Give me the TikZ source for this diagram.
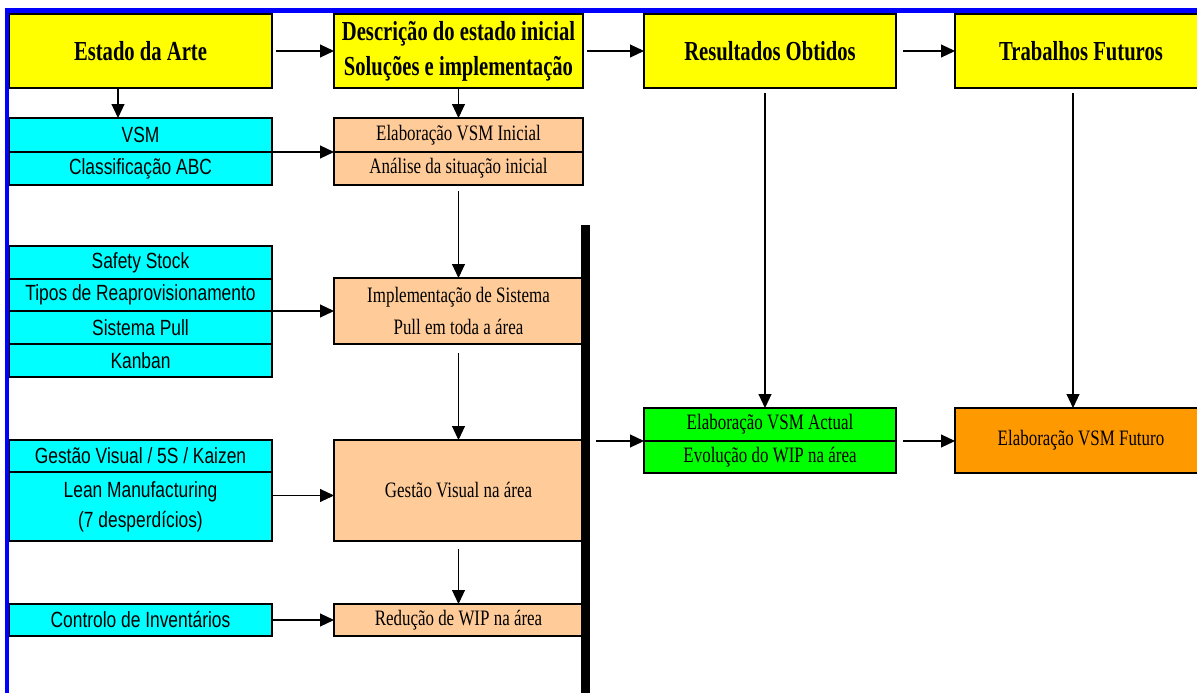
\documentclass[tikz,border=0pt]{standalone}
\usepackage{fontspec}
\usetikzlibrary{arrows.meta}
\newfontfamily\ttlfont[FakeStretch=0.75]{Liberation Serif}
\newfontfamily\serfont[FakeStretch=0.77]{Liberation Serif}
\newfontfamily\sanfont[FakeStretch=0.79]{Liberation Sans}
\definecolor{ylw}{HTML}{FFFF00}
\definecolor{cyn}{HTML}{00FFFF}
\definecolor{pch}{HTML}{FFCC99}
\definecolor{grn}{HTML}{00FF00}
\definecolor{org}{HTML}{FF9900}
\definecolor{brd}{HTML}{0000FF}
\tikzset{
  bx/.style={draw=black, line width=2.4pt, inner sep=0pt, outer sep=0pt, align=center, text=black},
  titlebox/.style={bx, fill=ylw, minimum height=74pt, font=\ttlfont\bfseries\fontsize{27.5}{35}\selectfont},
  leftbox/.style={bx, fill=cyn, minimum width=263pt, font=\sanfont\fontsize{22}{30}\selectfont},
  midbox/.style={bx, fill=pch, minimum width=249pt, font=\serfont\fontsize{22}{32}\selectfont},
  resbox/.style={bx, minimum width=252pt, font=\serfont\fontsize{22}{32}\selectfont},
  arr/.style={line width=1.1pt, -{Triangle[length=14pt,width=13pt]}},
}
\begin{document}
\begin{tikzpicture}[x=1pt,y=-1pt]
\clip (0,0) rectangle (1197,693);
\useasboundingbox (0,0) rectangle (1197,693);
\fill[white] (0,0) rectangle (1197,693);
% title row
\node[titlebox, minimum width=263pt] (arte) at (140.5,51) {Estado da Arte};
\node[titlebox, minimum width=249pt] (desc) at (458.5,51) {Descrição do estado inicial\\Soluções e implementação};
\node[titlebox, minimum width=252pt] (res) at (770,51) {Resultados Obtidos};
\node[titlebox, minimum width=252pt] (trab) at (1081,51) {Trabalhos Futuros};
% left column
\node[leftbox, minimum height=34pt] (vsm) at (140.5,135) {VSM};
\node[leftbox, minimum height=33pt] (abc) at (140.5,168.5) {Classificação ABC};
\node[leftbox, minimum height=33pt] (safety) at (140.5,262.5) {Safety Stock};
\node[leftbox, minimum height=32pt] (tipos) at (140.5,295) {Tipos de Reaprovisionamento};
\node[leftbox, minimum height=33pt] (spull) at (140.5,327.5) {Sistema Pull};
\node[leftbox, minimum height=33pt] (kanban) at (140.5,360.5) {Kanban};
\node[leftbox, minimum height=32pt] (gv5s) at (140.5,456) {Gestão Visual / 5S / Kaizen};
\node[leftbox, minimum height=69pt] (lean) at (140.5,506.5) {Lean Manufacturing\\(7 desperdícios)};
\node[leftbox, minimum height=32pt] (ctrl) at (140.5,620) {Controlo de Inventários};
% middle column
\node[midbox, minimum height=34pt] (elab) at (458.5,135) {Elaboração VSM Inicial};
\node[midbox, minimum height=33pt] (anal) at (458.5,168.5) {Análise da situação inicial};
\node[midbox, minimum height=66pt] (impl) at (458.5,311) {Implementação de Sistema\\Pull em toda a área};
\node[midbox, minimum height=101pt] (gvna) at (458.5,490.5) {Gestão Visual na área};
\node[midbox, minimum height=32pt] (red) at (458.5,620) {Redução de WIP na área};
% bar
\node[fill=black, inner sep=0pt, outer sep=0pt, minimum width=9pt, minimum height=470pt] (bar) at (585.5,460) {};
% results
\node[resbox, fill=grn, minimum height=33pt] (act) at (770,424.5) {Elaboração VSM Actual};
\node[resbox, fill=grn, minimum height=32pt] (evo) at (770,457) {Evolução do WIP na área};
\node[resbox, fill=org, minimum height=65pt] (fut) at (1081,440.5) {Elaboração VSM Futuro};
% arrows top row
\draw[arr] ([xshift=4pt]arte.east) -- (desc.west);
\draw[arr] ([xshift=4pt]desc.east) -- (res.west);
\draw[arr] ([xshift=7pt]res.east) -- (trab.west);
% down arrows
\draw[arr] ([xshift=-22.5pt]arte.south) -- ([xshift=-22.5pt]vsm.north);
\draw[arr] ([yshift=-1pt]desc.south) -- (elab.north);
\draw[arr] ([yshift=-6pt]anal.south) -- (impl.north);
\draw[arr] ([yshift=-9pt]impl.south) -- (gvna.north);
\draw[arr] ([yshift=-8pt]gvna.south) -- (red.north);
\draw[arr] ([xshift=-5pt,yshift=-5pt]res.south) -- ([xshift=-5pt]act.north);
\draw[arr] ([xshift=-8pt,yshift=-5pt]trab.south) -- ([xshift=-8pt]fut.north);
% horizontal arrows
\draw[arr] ([xshift=1pt]vsm.south east) -- (elab.south west);
\draw[arr] ([xshift=1pt]spull.north east) -- (impl.west);
\draw[arr] ([xshift=1pt,yshift=11pt]lean.east) -- ([yshift=-5pt]gvna.west);
\draw[arr] ([xshift=1pt]ctrl.east) -- (red.west);
\draw[arr] ([xshift=6pt]bar.east |- act.south west) -- (act.south west);
\draw[arr] ([xshift=7pt]act.south east) -- (act.south east -| fut.west);
% blue frame
\draw[brd, line width=4.5pt] (7,693) -- (7,10.5) -- (1197,10.5);
\end{tikzpicture}
\end{document}
